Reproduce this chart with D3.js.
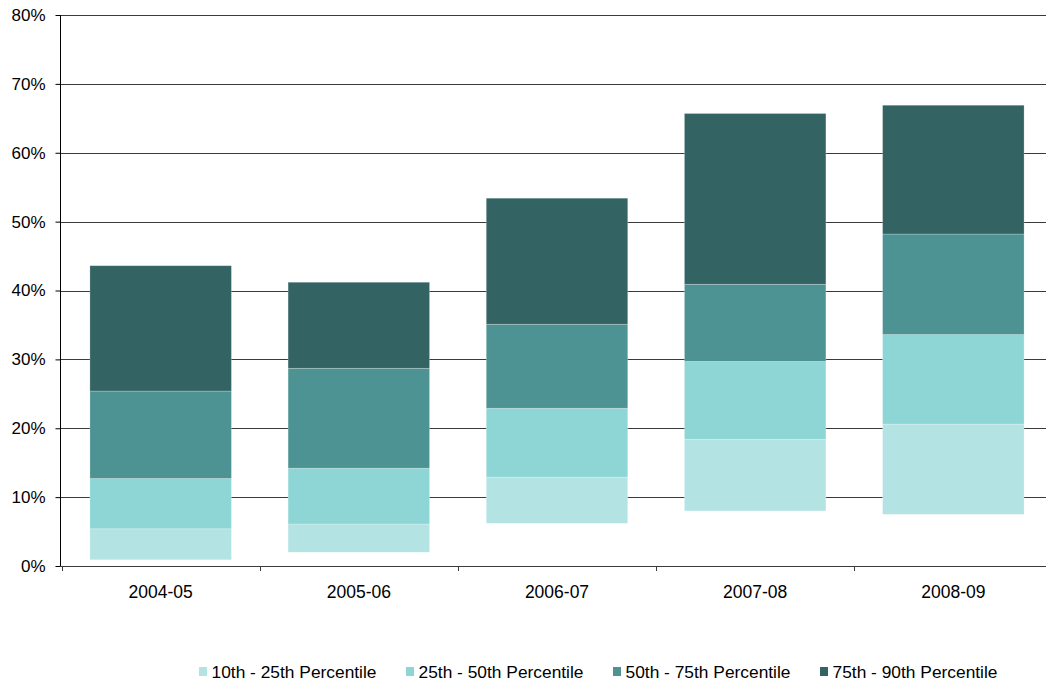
<!DOCTYPE html>
<html>
<head>
<meta charset="utf-8">
<script src="https://cdn.jsdelivr.net/npm/d3@7"></script>
<style>
  html, body { margin: 0; padding: 0; background: #fff; }
  svg { display: block; }
  text { font-family: Arial, "Liberation Sans", sans-serif; fill: #000; }
</style>
</head>
<body>
<svg id="chart" width="1046" height="682"></svg>
<script>
const categories = ["2004-05", "2005-06", "2006-07", "2007-08", "2008-09"];
const p10 = [0.9, 2.0, 6.2, 8.0, 7.5];
const p25 = [5.4, 6.1, 12.9, 18.4, 20.6];
const p50 = [12.7, 14.2, 22.9, 29.7, 33.6];
const p75 = [25.4, 28.7, 35.1, 40.9, 48.2];
const p90 = [43.6, 41.2, 53.4, 65.7, 66.9];
const seriesNames = ["10th - 25th Percentile", "25th - 50th Percentile", "50th - 75th Percentile", "75th - 90th Percentile"];
const seriesColors = ["#b3e3e3", "#8ed5d5", "#4d9393", "#336362"];
const yTicks = [0, 10, 20, 30, 40, 50, 60, 70, 80];

const bounds = [p10, p25, p50, p75, p90];

const svg = d3.select("#chart");
const mLeft = 60, mRight = 1054, mTop = 15, mBottom = 566;

const x = d3.scaleBand().domain(categories).range([mLeft, mRight]).paddingInner(0.286).paddingOuter(0.151);
const y = d3.scaleLinear().domain([0, 80]).range([mBottom, mTop]);

// gridlines
svg.append("g").selectAll("line").data(yTicks.filter(d => d > 0)).join("line")
  .attr("x1", mLeft).attr("x2", 1046)
  .attr("y1", d => Math.round(y(d)) + 0.5).attr("y2", d => Math.round(y(d)) + 0.5)
  .attr("stroke", "#3a3a3a").attr("stroke-width", 1);

// bars
const segs = [];
categories.forEach((c, i) => {
  for (let s = 0; s < 4; s++) {
    segs.push({ c, s, lo: bounds[s][i], hi: bounds[s + 1][i] });
  }
});
svg.append("g").selectAll("rect").data(segs).join("rect")
  .attr("x", d => x(d.c))
  .attr("width", x.bandwidth())
  .attr("y", d => y(d.hi))
  .attr("height", d => y(d.lo) - y(d.hi))
  .attr("fill", d => seriesColors[d.s])
  .attr("stroke", "rgba(255,255,255,0.3)")
  .attr("stroke-width", 0.8);

// y axis
const yAxis = d3.axisLeft(y).tickValues(yTicks).tickFormat(d => d + "%").tickSize(5).tickPadding(10);
const gy = svg.append("g").attr("transform", `translate(${mLeft + 0.5},0)`).call(yAxis);
gy.select(".domain").attr("stroke", "#000").attr("d", `M0,${mTop}V${mBottom}`);
gy.selectAll(".tick line").attr("stroke", "#000");
gy.selectAll(".tick text").attr("font-size", "17px").attr("font-family", "Arial, 'Liberation Sans', sans-serif").attr("fill", "#000");

// x axis
const boundaries = categories.map(c => x(c) - x.step() * x.paddingInner() / 2);
boundaries.push(mRight);
const gx = svg.append("g");
gx.append("line").attr("x1", mLeft).attr("x2", 1046).attr("y1", mBottom + 0.5).attr("y2", mBottom + 0.5).attr("stroke", "#3a3a3a");
gx.selectAll("line.tk").data(boundaries).join("line").attr("class", "tk")
  .attr("x1", d => Math.round(d) + 0.5).attr("x2", d => Math.round(d) + 0.5)
  .attr("y1", mBottom).attr("y2", mBottom + 5).attr("stroke", "#3a3a3a");
gx.selectAll("text").data(categories).join("text")
  .attr("x", d => x(d) + x.bandwidth() / 2)
  .attr("y", 598)
  .attr("text-anchor", "middle")
  .attr("font-size", "17.5px")
  .text(d => d);

// legend
const lg = svg.append("g").selectAll("g").data(seriesNames).join("g")
  .attr("transform", (d, i) => `translate(${199 + i * 207},0)`);
lg.append("rect").attr("x", 0).attr("y", 667).attr("width", 8).attr("height", 9)
  .attr("fill", (d, i) => seriesColors[i]);
lg.append("text").attr("x", 12.5).attr("y", 678).attr("font-size", "17px")
  .attr("textLength", 165).attr("lengthAdjust", "spacingAndGlyphs")
  .text(d => d);
</script>
</body>
</html>
